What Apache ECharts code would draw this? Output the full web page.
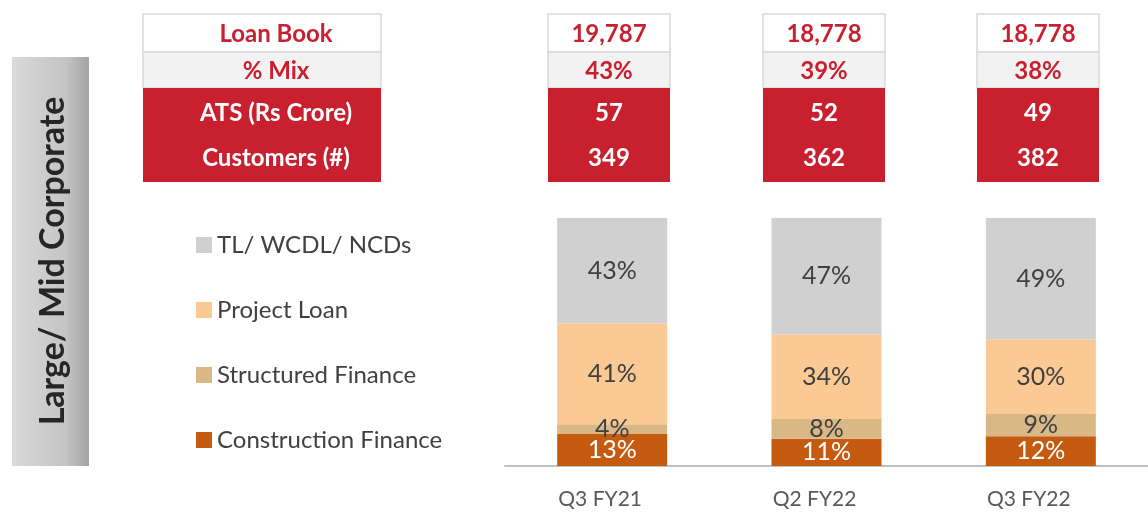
<!DOCTYPE html>
<html>
<head>
<meta charset="utf-8">
<script src="https://cdn.jsdelivr.net/npm/echarts@6/dist/echarts.min.js"></script>
<style>
  html, body { margin: 0; padding: 0; background: #fff; }
  #chart { width: 1148px; height: 515px; }
</style>
</head>
<body>
<div id="chart"></div>
<script>
// categories and stacked shares (%)
const categories = ['Q3 FY21', 'Q2 FY22', 'Q3 FY22'];
const constructionFinance = [13, 11, 12];
const structuredFinance = [4, 8, 9];
const projectLoan = [41, 34, 30];
const tlWcdlNcds = [43, 47, 49];

// table rows above the bars
const rowLabels = ['Loan Book', '% Mix', 'ATS (Rs Crore)', 'Customers (#)'];
const loanBook = ['19,787', '18,778', '18,778'];
const mixShare = ['43%', '39%', '38%'];
const ats = ['57', '52', '49'];
const customers = ['349', '362', '382'];

const RED = '#c8202f';
const FONT = 'Lato, "Open Sans", sans-serif';

// 100% stacked: normalise each column, label with the raw value
const totals = categories.map((c, i) =>
  constructionFinance[i] + structuredFinance[i] + projectLoan[i] + tlWcdlNcds[i]);

function makeSeries(name, values, color, labelColor) {
  return {
    name: name,
    type: 'bar',
    stack: 'mix',
    barWidth: 110,
    itemStyle: { color: color },
    label: {
      show: true,
      position: 'inside',
      color: labelColor,
      fontSize: 25,
      fontFamily: FONT,
      formatter: p => values[p.dataIndex] + '%'
    },
    data: values.map((v, i) => v / totals[i] * 100)
  };
}

// table cells drawn as graphic rects / texts
const labelCol = { x: 143, w: 238 };
const dataCols = [{ x: 548, w: 122 }, { x: 763, w: 122 }, { x: 977, w: 122 }];
const graphics = [];

function cell(x, y, w, h, fill, stroke) {
  graphics.push({
    type: 'rect',
    shape: { x: x, y: y, width: w, height: h },
    style: { fill: fill, stroke: stroke || null, lineWidth: stroke ? 1.5 : 0 },
    z: 1
  });
}
function txt(cx, cy, s, color) {
  graphics.push({
    type: 'text',
    x: cx, y: cy,
    style: {
      text: s, fill: color, fontSize: 24, fontWeight: 'bold', fontFamily: FONT,
      align: 'center', verticalAlign: 'middle'
    },
    z: 2
  });
}

[labelCol].concat(dataCols).forEach((col, ci) => {
  cell(col.x, 14, col.w, 38, '#ffffff', '#d9d9d9');
  cell(col.x, 52, col.w, 36, '#f2f2f2', '#d9d9d9');
  cell(col.x, 88, col.w, 94, RED);
  if (ci === 0) {
    const cx = 276;
    txt(cx, 34, rowLabels[0], RED);
    txt(cx, 71, rowLabels[1], RED);
    txt(cx, 113, rowLabels[2], '#fff');
    txt(cx, 158, rowLabels[3], '#fff');
  } else {
    const cx = col.x + col.w / 2;
    const i = ci - 1;
    txt(cx, 34, loanBook[i], RED);
    txt(cx, 71, mixShare[i], RED);
    txt(cx, 113, ats[i], '#fff');
    txt(cx, 158, customers[i], '#fff');
  }
});

// left side title box
graphics.push({
  type: 'rect',
  shape: { x: 12, y: 57, width: 77, height: 409 },
  style: {
    fill: new echarts.graphic.LinearGradient(0, 0, 1, 0, [
      { offset: 0, color: '#dadada' },
      { offset: 0.7, color: '#c4c4c4' },
      { offset: 1, color: '#a3a3a3' }
    ])
  }
});
graphics.push({
  type: 'text',
  x: 53, y: 261,
  rotation: Math.PI / 2,
  style: {
    text: 'Large/ Mid Corporate', fill: '#262626', fontSize: 34, fontWeight: 'bold',
    fontFamily: FONT, align: 'center', verticalAlign: 'middle'
  }
});

const chart = echarts.init(document.getElementById('chart'));
chart.setOption({
  animation: false,
  legend: {
    orient: 'vertical',
    left: 191,
    top: 228,
    itemGap: 41,
    itemWidth: 16,
    itemHeight: 16,
    icon: 'rect',
    data: ['TL/ WCDL/ NCDs', 'Project Loan', 'Structured Finance', 'Construction Finance'],
    textStyle: { fontSize: 24, color: '#404040', fontFamily: FONT, lineHeight: 24 }
  },
  grid: { left: 505, right: 0, top: 218, bottom: 49 },
  xAxis: {
    type: 'category',
    data: categories,
    axisLine: { lineStyle: { color: '#c0c0c0', width: 2 } },
    axisTick: { show: false },
    axisLabel: {
      color: '#595959', fontSize: 21, fontFamily: FONT, margin: 23,
      padding: [0, 24, 0, 0]
    }
  },
  yAxis: { type: 'value', min: 0, max: 100, show: false, splitLine: { show: false } },
  graphic: graphics,
  series: [
    makeSeries('Construction Finance', constructionFinance, '#c55a11', '#ffffff'),
    makeSeries('Structured Finance', structuredFinance, '#d9b886', '#404040'),
    makeSeries('Project Loan', projectLoan, '#fbc993', '#404040'),
    makeSeries('TL/ WCDL/ NCDs', tlWcdlNcds, '#d0d0d0', '#404040')
  ]
});
</script>
</body>
</html>
